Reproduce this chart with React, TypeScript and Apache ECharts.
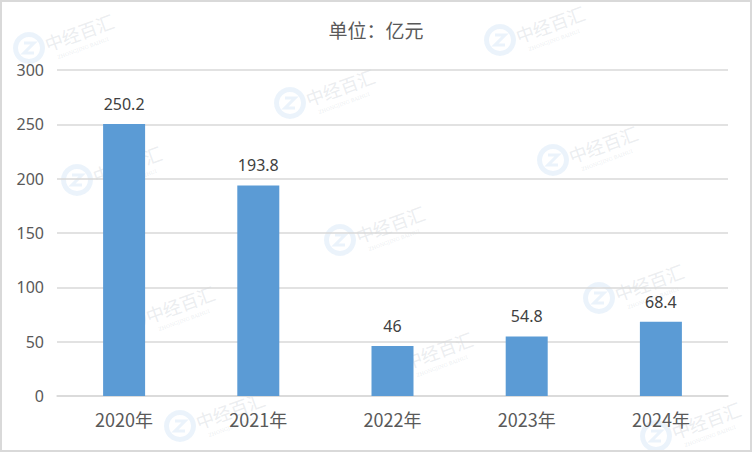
import React, { useEffect, useRef } from "react";
import * as echarts from "echarts";

const categories = ["2020年", "2021年", "2022年", "2023年", "2024年"];
const values = [250.2, 193.8, 46, 54.8, 68.4];
const titleText = "单位：亿元";
const watermarkText = "中经百汇";
const watermarkSub = "ZHONGJING BAIHUI";
const watermarkSpots = [
  [29, 48], [500, 40], [290, 103], [77, 180], [553, 160],
  [340, 240], [130, 320], [599, 298], [388, 366], [656, 436], [180, 426],
];

export default function App() {
  const ref = useRef<HTMLDivElement>(null);
  useEffect(() => {
    if (!ref.current) return;
    const chart = echarts.init(ref.current, undefined, { renderer: "svg" });
    const rot = (20 * Math.PI) / 180;
    const graphics: any[] = [
      {
        type: "rect",
        shape: { x: 1, y: 1, width: 750, height: 450 },
        style: { fill: "none", stroke: "#d9d9d9", lineWidth: 2 },
        z: 100,
        silent: true,
      },
    ];
    watermarkSpots.forEach(([x, y]) => {
      graphics.push({
        type: "group",
        x,
        y,
        z: 50,
        silent: true,
        children: [
          {
            type: "ring",
            shape: { cx: 0, cy: 0, r: 16, r0: 11 },
            style: { fill: "rgba(120,175,225,0.15)" },
          },
          {
            type: "polyline",
            shape: { points: [[-5, -5], [5, -5], [-5, 5], [5, 5]] },
            style: { stroke: "rgba(120,175,225,0.15)", lineWidth: 3, fill: "none" },
          },
          {
            type: "text",
            x: 50,
            y: -16,
            rotation: rot,
            style: {
              text: watermarkText,
              fill: "rgba(190,195,205,0.3)",
              font: "18px 'Noto Sans CJK SC'",
              align: "center",
              verticalAlign: "middle",
            },
          },
          {
            type: "text",
            x: 54,
            y: 0,
            rotation: rot,
            style: {
              text: watermarkSub,
              fill: "rgba(190,195,205,0.3)",
              font: "5px 'DejaVu Serif'",
              align: "center",
              verticalAlign: "middle",
            },
          },
        ],
      });
    });
    chart.setOption({
      animation: false,
      backgroundColor: "#ffffff",
      title: {
        text: titleText,
        left: "center",
        top: 15,
        textStyle: {
          color: "#595959",
          fontSize: 19,
          fontWeight: "normal",
          fontFamily: "'Noto Sans CJK SC', sans-serif",
        },
      },
      graphic: graphics,
      grid: { left: 57, right: 24, top: 70, bottom: 56, containLabel: false },
      xAxis: {
        type: "category",
        data: categories,
        axisLine: { show: true, lineStyle: { color: "#d9d9d9", width: 1.5 } },
        axisTick: { show: false },
        axisLabel: {
          color: "#595959",
          fontSize: 18,
          margin: 14,
          fontFamily: "'Noto Sans CJK SC', sans-serif",
        },
      },
      yAxis: {
        type: "value",
        min: 0,
        max: 300,
        interval: 50,
        axisLine: { show: false },
        axisTick: { show: false },
        axisLabel: {
          color: "#595959",
          fontSize: 16,
          margin: 13,
          fontFamily: "'Noto Sans', sans-serif",
        },
        splitLine: { lineStyle: { color: "#d9d9d9", width: 1.5 } },
      },
      series: [
        {
          type: "bar",
          data: values,
          barWidth: 42,
          itemStyle: { color: "#5b9bd5" },
          label: {
            show: true,
            position: "top",
            distance: 12,
            color: "#404040",
            fontSize: 16,
            fontFamily: "'Noto Sans', sans-serif",
          },
        },
      ],
    });
    return () => chart.dispose();
  }, []);
  return (
    <div
      ref={ref}
      style={{ position: "fixed", left: 0, top: 0, width: 752, height: 452 }}
    />
  );
}
